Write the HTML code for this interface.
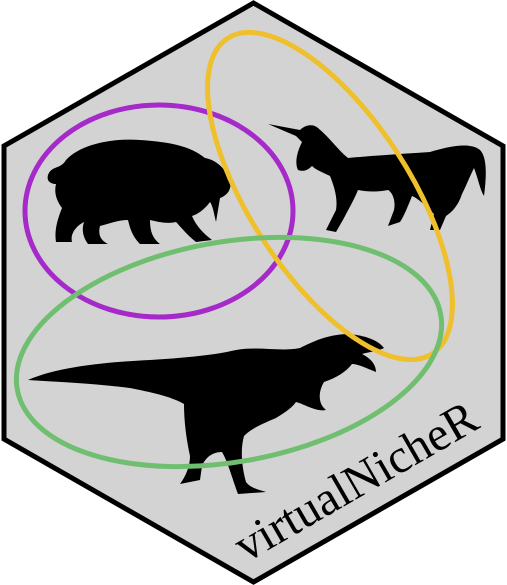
<!DOCTYPE html>
<html><head><meta charset="utf-8"><style>html,body{margin:0;padding:0;background:#fff}svg{display:block}</style></head>
<body>
<svg width="507" height="585" viewBox="0 0 507 585">
<polygon points="253.5,3 503,146 503,439 253.5,582 4,439 4,146" fill="#d3d3d3" stroke="#000" stroke-width="5" stroke-linejoin="miter"/>
<g fill="#000">
<path d="M48,175 C52,165 60,170 66,160 C80,145 110,138 140,140 C170,142 190,146 205,158 C218,160 228,172 230,182 C232,190 226,196 220,198 L216,222 C214,214 213,206 210,202 C204,210 198,214 192,216 C196,226 204,234 212,240 L196,242 C186,234 180,226 176,222 C168,224 158,222 150,220 C150,230 152,238 160,244 L140,244 C132,236 130,228 128,220 C118,220 108,224 100,226 C98,234 100,240 108,244 L88,244 C82,236 82,228 84,222 C76,226 70,234 72,242 L56,242 C54,230 58,218 62,208 C56,200 54,192 56,184 C52,184 46,182 48,175 Z"/>
</g>
<g fill="#000">
<path d="M268,124 L300,130 C306,124 314,124 318,128 C330,138 338,150 348,158 C370,156 400,154 430,152 C450,146 470,142 480,150 C488,158 486,180 484,196 C480,190 478,178 474,168 C470,176 466,186 462,194 C458,206 452,212 446,216 L440,230 L430,230 L434,214 C428,208 418,198 412,196 C408,206 404,216 400,222 L388,226 L394,210 C396,200 392,192 388,190 C378,192 368,192 358,190 C354,200 348,210 344,218 L336,232 L326,230 L336,210 C338,198 334,186 330,176 C322,172 316,170 312,166 C308,170 304,172 298,170 C294,162 298,150 302,142 L296,136 L268,124 Z"/>
</g>
<g fill="#000">
<path d="M28,380 C60,366 110,362 150,360 C180,358 210,356 236,350 C260,346 280,352 300,348 C316,340 330,334 350,334 C366,336 378,340 384,348 C376,352 368,352 362,354 C370,358 376,364 376,372 C366,368 358,364 352,364 C346,372 336,378 324,382 C318,392 318,404 326,410 C316,412 304,404 296,402 C290,410 282,414 276,418 C262,424 252,428 244,436 C240,450 242,468 246,482 C250,488 260,490 266,492 L238,494 C232,478 228,462 222,452 C214,452 206,456 202,466 L200,480 L180,484 C186,476 190,466 190,456 C186,438 184,420 184,404 C170,396 150,392 130,388 C100,384 60,382 28,380 Z"/>
</g>
<ellipse cx="159" cy="211" rx="134" ry="106" fill="none" stroke="#a52ac9" stroke-width="5"/>
<ellipse cx="330" cy="196" rx="80" ry="188" transform="rotate(-33 330 196)" fill="none" stroke="#f0c02c" stroke-width="5"/>
<ellipse cx="229" cy="352" rx="215" ry="110" transform="rotate(-10 229 352)" fill="none" stroke="#70bf70" stroke-width="5"/>
<text x="246" y="563" transform="rotate(-30 246 563)" font-family="'Liberation Serif', serif" font-size="48" fill="#000">virtualNicheR</text>
</svg>
</body></html>
